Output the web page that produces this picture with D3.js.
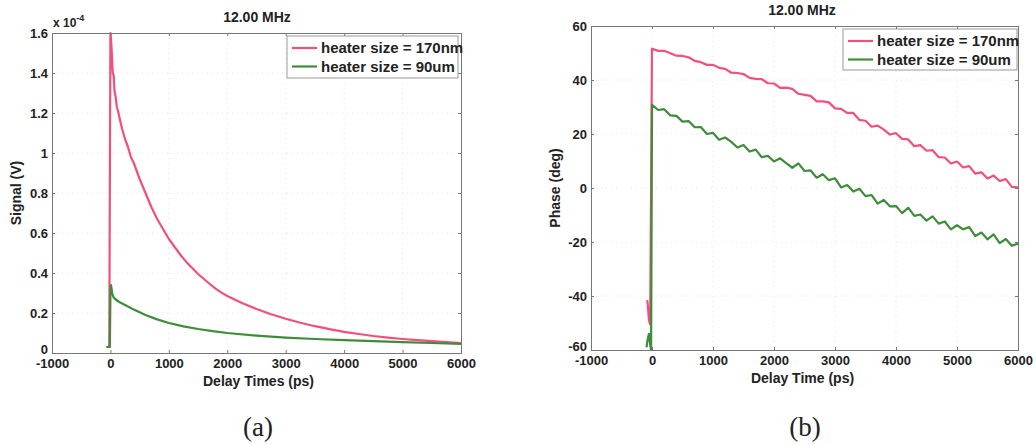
<!DOCTYPE html>
<html><head><meta charset="utf-8">
<script src="https://cdn.jsdelivr.net/npm/d3@7"></script>
<style>
body{margin:0;background:#fff;}
svg text{font-family:"Liberation Sans",Arial,sans-serif;font-weight:bold;fill:#222;}
</style></head>
<body><svg id="c" width="1036" height="445"></svg>
<script>
// ---------- DATA ----------
const chartTitle = "12.00 MHz";
const seriesNames = ["heater size = 170nm", "heater size = 90um"];
const xTicks = [-1000, 0, 1000, 2000, 3000, 4000, 5000, 6000];
const signalTicks = [0, 0.2, 0.4, 0.6, 0.8, 1, 1.2, 1.4, 1.6];
const phaseTicks = [-60, -40, -20, 0, 20, 40, 60];

// Signal (x 1e-4 V) vs delay time (ps)
const signal170nm = [
 [-60,0.03],[-20,0.03],[0,1.60],[10,1.57],[20,1.52],[30,1.46],[40,1.40],[55,1.39],[70,1.31],[90,1.28],
 [110,1.23],[130,1.21],[160,1.17],[200,1.12],[250,1.07],[300,1.03],[350,0.98],[400,0.95],[500,0.87],
 [600,0.80],[700,0.73],[800,0.67],[900,0.62],[1000,0.57],[1100,0.53],[1200,0.49],[1300,0.455],[1400,0.425],
 [1500,0.395],[1600,0.37],[1700,0.345],[1800,0.322],[1900,0.302],[2000,0.285],[2250,0.25],[2500,0.22],
 [2750,0.194],[3000,0.171],[3250,0.151],[3500,0.134],[3750,0.119],[4000,0.106],[4250,0.095],[4500,0.085],
 [4750,0.077],[5000,0.07],[5250,0.064],[5500,0.059],[5750,0.054],[6000,0.05]
];
const signal90um = [
 [-70,0.03],[-10,0.03],[0,0.30],[10,0.34],[30,0.30],[50,0.28],[80,0.27],[150,0.255],[250,0.24],[400,0.217],
 [600,0.19],[800,0.168],[1000,0.15],[1250,0.133],[1500,0.12],[1750,0.109],[2000,0.1],[2500,0.087],
 [3000,0.077],[3500,0.07],[4000,0.064],[4500,0.059],[5000,0.054],[5500,0.05],[6000,0.046]
];

// Phase (deg) vs delay time (ps)
const phase170nm = [
 [-80,-41.5],[-70,-43],[-60,-46],[-50,-49],[-30,-50.5],[0,51.6],
 [100,50.8],[200,50.8],[300,49.9],[400,49.0],[500,48.9],[600,48.4],[700,47.1],[800,46.6],[900,45.6],
 [1000,45.6],[1100,44.5],[1200,44.1],[1300,42.7],[1400,42.6],[1500,42.2],[1600,40.8],[1700,40.4],
 [1800,40.3],[1900,38.8],[2000,38.7],[2100,37.1],[2200,37.2],[2300,36.7],[2400,34.9],[2500,34.5],
 [2600,34.1],[2700,32.1],[2800,32.1],[2900,31.7],[3000,29.5],[3100,29.3],[3200,27.8],[3300,27.8],
 [3400,25.2],[3500,24.9],[3600,22.7],[3700,23.1],[3800,21.6],[3900,19.8],[4000,20.3],[4100,18.2],
 [4200,18.0],[4300,15.5],[4400,15.9],[4500,13.8],[4600,14.0],[4700,11.4],[4800,11.3],[4900,9.1],
 [5000,9.8],[5100,7.6],[5200,8.1],[5300,5.3],[5400,5.8],[5500,3.5],[5600,4.6],[5700,2.6],[5800,3.3],
 [5900,0.4],[6000,0.2]
];
const phase90um = [
 [-90,-59],[-70,-56],[-50,-54],[-30,-58],[-15,-60],[0,30.8],
 [100,28.9],[200,29.2],[300,26.9],[400,26.7],[500,24.6],[600,24.8],[700,22.5],[800,22.6],[900,20.0],
 [1000,20.4],[1100,17.9],[1200,18.7],[1300,17.1],[1400,15.0],[1500,15.9],[1600,13.5],[1700,14.2],
 [1800,11.4],[1900,11.9],[2000,9.8],[2100,11.0],[2200,9.2],[2300,7.5],[2400,9.1],[2500,6.3],
 [2600,6.5],[2700,3.8],[2800,5.1],[2900,2.9],[3000,3.6],[3100,0.2],[3200,1.1],[3300,-1.3],[3400,-0.3],
 [3500,-3.0],[3600,-2.6],[3700,-5.8],[3800,-4.4],[3900,-6.8],[4000,-6.7],[4100,-9.3],[4200,-7.3],
 [4300,-10.3],[4400,-9.8],[4500,-12.1],[4600,-10.5],[4700,-13.2],[4800,-12.4],[4900,-15.3],[5000,-13.8],
 [5100,-15.3],[5200,-14.5],[5300,-17.8],[5400,-16.5],[5500,-19.0],[5600,-17.2],[5700,-20.4],[5800,-18.9],
 [5900,-21.4],[6000,-20.6]
];

// ---------- DRAW ----------
const colors = ["#f24f7d", "#3f8c3a"];
const svg = d3.select("#c");
const plain = d => String(d);

function panel(o){
  const g = svg.append("g");
  const x = d3.scaleLinear().domain([-1000,6000]).range([o.l,o.r]);
  const y = d3.scaleLinear().domain(o.yDom).range([o.b,o.t]);
  // faint grid
  g.append("g").selectAll("line").data(xTicks.slice(1,-1)).join("line")
    .attr("x1",d=>x(d)).attr("x2",d=>x(d)).attr("y1",o.t).attr("y2",o.b)
    .attr("stroke","#e4e4e4").attr("stroke-dasharray","1,4");
  g.append("g").selectAll("line").data(o.yTicks.slice(1,-1)).join("line")
    .attr("y1",d=>y(d)).attr("y2",d=>y(d)).attr("x1",o.l).attr("x2",o.r)
    .attr("stroke","#e4e4e4").attr("stroke-dasharray","1,4");
  // lines
  const line = d3.line().x(d=>x(d[0])).y(d=>y(d[1]));
  o.series.forEach((s,i)=>{
    g.append("path").datum(s).attr("d",line).attr("fill","none")
      .attr("stroke",colors[i]).attr("stroke-width",2.2).attr("stroke-linejoin","round");
  });
  // axes
  g.append("g").attr("transform",`translate(0,${o.b})`)
    .call(d3.axisBottom(x).tickValues(xTicks).tickSize(-3).tickPadding(6).tickFormat(plain));
  const ay = g.append("g").attr("transform",`translate(${o.l},0)`)
    .call(d3.axisLeft(y).tickValues(o.yTicks).tickSize(-3).tickPadding(4).tickFormat(o.yFmt));
  ay.selectAll(".tick").filter(d=>d===o.yDom[0]).select("text").attr("y",-4);
  g.append("g").attr("transform",`translate(0,${o.t})`)
    .call(d3.axisTop(x).tickValues(xTicks).tickSize(-3).tickFormat(""));
  g.append("g").attr("transform",`translate(${o.r},0)`)
    .call(d3.axisRight(y).tickValues(o.yTicks).tickSize(-3).tickFormat(""));
  g.selectAll(".domain").attr("stroke","#777");
  g.selectAll(".tick line").attr("stroke","#777");
  g.selectAll(".tick text").style("font-size","13px").style("font-family","'Liberation Sans',Arial,sans-serif")
    .style("font-weight","bold").attr("fill","#222");
  // title
  g.append("text").attr("x",o.titleX).attr("y",o.titleY).attr("text-anchor","middle")
    .style("font-size","14px").text(chartTitle);
  // axis labels
  g.append("text").attr("x",(o.l+o.r)/2+o.xlabDx).attr("y",o.xlabY).attr("text-anchor","middle")
    .style("font-size","14px").text(o.xlab);
  g.append("text").attr("transform",`translate(${o.ylabX},${(o.t+o.b)/2}) rotate(-90)`)
    .attr("text-anchor","middle").style("font-size","14px").text(o.ylab);
  // legend
  const L = o.leg;
  g.append("rect").attr("x",L.x).attr("y",L.y).attr("width",L.w).attr("height",L.h)
    .attr("fill","#fff").attr("stroke","#999").attr("stroke-width",1);
  seriesNames.forEach((n,i)=>{
    const yy = L.y + 12 + i*18.5;
    g.append("line").attr("x1",L.x+5).attr("x2",L.x+30).attr("y1",yy).attr("y2",yy)
      .attr("stroke",colors[i]).attr("stroke-width",2.2);
    g.append("text").attr("x",L.x+34).attr("y",yy+5).style("font-size","15px").text(n);
  });
  // caption
  g.append("text").attr("x",o.capX).attr("y",436).attr("text-anchor","middle")
    .style("font-family","'Liberation Serif','Times New Roman',serif").style("font-weight","normal")
    .style("font-size","27px").text(o.cap);
  return {g,x,y};
}

const A = panel({l:52,r:461,t:33,b:353,yDom:[0,1.6],yTicks:signalTicks,
  yFmt:d=>d===0?"0":(d===1?"1":d3.format(".1f")(d)),
  series:[signal170nm,signal90um], titleX:257, titleY:22,
  xlab:"Delay Times (ps)", xlabDx:2, xlabY:386, ylab:"Signal (V)", ylabX:21,
  leg:{x:287,y:36,w:171,h:42}, cap:"(a)", capX:258});
// exponent label
const ex = A.g.append("text").attr("x",53).attr("y",27).style("font-size","12px");
ex.append("tspan").text("x 10");
ex.append("tspan").attr("dy",-6).style("font-size","9px").text("-4");

panel({l:591,r:1018,t:26,b:350,yDom:[-60,60],yTicks:phaseTicks,
  yFmt:plain, series:[phase170nm,phase90um], titleX:802, titleY:15,
  xlab:"Delay Time (ps)", xlabDx:-2, xlabY:383, ylab:"Phase (deg)", ylabX:560,
  leg:{x:843,y:29,w:174,h:41}, cap:"(b)", capX:805});
</script></body></html>
